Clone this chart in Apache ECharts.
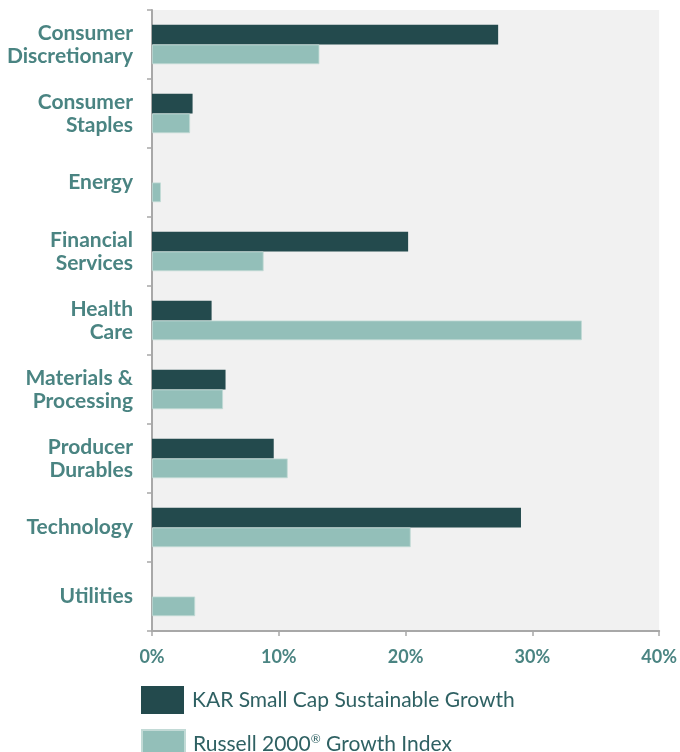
<!DOCTYPE html>
<html>
<head>
<meta charset="utf-8">
<script src="https://cdn.jsdelivr.net/npm/echarts@6/dist/echarts.min.js"></script>
<style>
html,body{margin:0;padding:0;background:#fff;}
#chart{width:680px;height:752px;}
</style>
</head>
<body>
<div id="chart"></div>
<script>
const categories = ["Consumer\nDiscretionary","Consumer\nStaples","Energy","Financial\nServices","Health\nCare","Materials &\nProcessing","Producer\nDurables","Technology","Utilities"];
const seriesNames = ["KAR Small Cap Sustainable Growth","Russell 2000® Growth Index"];
const karValues = [27.3, 3.2, 0, 20.2, 4.7, 5.8, 9.6, 29.1, 0];
const russellValues = [13.2, 3.0, 0.7, 8.8, 33.9, 5.6, 10.7, 20.4, 3.4];
const xTicks = [0, 10, 20, 30, 40];

const chart = echarts.init(document.getElementById('chart'), null, {renderer:'canvas'});
const labelColor = '#4a8482';
const legendColor = '#2f6163';
const fontFam = 'Lato, "Open Sans", sans-serif';
const legendBase = {
  orient:'vertical',left:141,padding:0,itemWidth:43,itemHeight:28,itemGap:15,icon:'rect',
  textStyle:{color:legendColor,fontSize:21,fontFamily:fontFam,padding:[0,0,0,3],
    rich:{sup:{fontSize:12,fontFamily:fontFam,color:legendColor,verticalAlign:'top',padding:[0,0,10,0]},
          t:{fontSize:21,fontFamily:fontFam,color:legendColor}}}
};
chart.setOption({
  animation:false,
  grid:{left:152,right:20,top:10,bottom:121,show:true,backgroundColor:'#f1f1f1',borderWidth:0},
  legend:[
    Object.assign({}, legendBase, {top:686, data:[seriesNames[0]]}),
    Object.assign({}, legendBase, {top:729, data:[seriesNames[1]],
      formatter: n => '{t|Russell 2000}{sup|®}{t| Growth Index}'})
  ],
  xAxis:{
    type:'value',min:xTicks[0],max:xTicks[xTicks.length-1],interval:10,
    axisLine:{show:true,lineStyle:{color:'#a8a8a8',width:2}},
    axisTick:{show:true,length:5,lineStyle:{color:'#a8a8a8',width:1.5}},
    splitLine:{show:false},
    axisLabel:{formatter:'{value}%',color:labelColor,fontWeight:'bold',fontSize:18,fontFamily:fontFam,margin:17}
  },
  yAxis:{
    type:'category',inverse:true,data:categories,
    axisLine:{show:true,lineStyle:{color:'#a8a8a8',width:2}},
    axisTick:{show:true,length:5,alignWithLabel:false,lineStyle:{color:'#a8a8a8',width:1.5}},
    axisLabel:{color:labelColor,fontWeight:'bold',fontSize:21,lineHeight:23.5,fontFamily:fontFam,margin:19,align:'right'}
  },
  series:[
    {name:seriesNames[0],type:'bar',data:karValues,barGap:'0%',barCategoryGap:'43%',
     itemStyle:{color:'#234a4d',borderWidth:0}},
    {name:seriesNames[1],type:'bar',data:russellValues,barGap:'0%',barCategoryGap:'43%',
     itemStyle:{color:'#93bfb9',borderColor:'#c2dad6',borderWidth:0.8}}
  ]
});
</script>
</body>
</html>
